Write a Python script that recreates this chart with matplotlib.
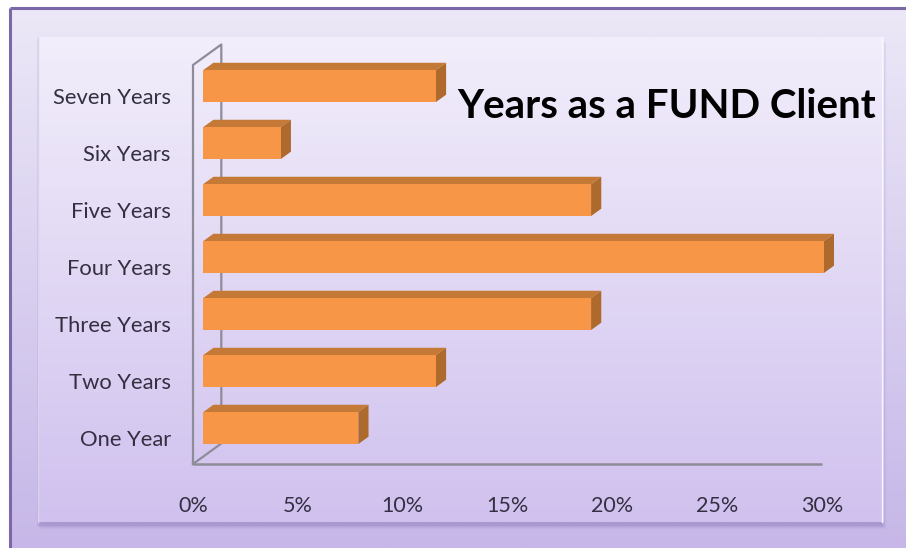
import numpy as np
import matplotlib
matplotlib.use("Agg")
import matplotlib.pyplot as plt
import matplotlib.transforms as mtransforms
from matplotlib.patches import Polygon, Rectangle

plt.rcParams['font.family'] = ['Lato', 'DejaVu Sans']

# ---------------- data ----------------
categories = ["One Year", "Two Years", "Three Years", "Four Years",
              "Five Years", "Six Years", "Seven Years"]
values = [7.4, 11.1, 18.5, 29.6, 18.5, 3.7, 11.1]   # percent
xticks = [0, 5, 10, 15, 20, 25, 30]
xtick_labels = [f"{t}%" for t in xticks]
title = "Years as a FUND Client"

W, H = 906, 548
fig = plt.figure(figsize=(W / 100, H / 100), dpi=100)

# ---------------- background (pixel coords) ----------------
bg = fig.add_axes([0, 0, 1, 1])
bg.set_xlim(0, W)
bg.set_ylim(H, 0)
bg.axis('off')

def vgrad(top, bottom, n=256):
    t = np.linspace(0, 1, n)[:, None]
    top = np.array(top) / 255.0
    bottom = np.array(bottom) / 255.0
    g = top[None, :] * (1 - t) + bottom[None, :] * t
    return g[:, None, :]

bg.imshow(np.ones((2, 2, 3)), extent=[0, W, H, 0], aspect='auto', zorder=0)
bg.imshow(vgrad((236, 232, 247), (198, 183, 232)), extent=[10, W, H, 8],
          aspect='auto', zorder=1, interpolation='bilinear')
# outer border (left and top)
bg.plot([10, 10], [8, H], color='#7a68a8', lw=2.2, zorder=2, solid_capstyle='butt')
bg.plot([10, W], [8, 8], color='#7a68a8', lw=2.2, zorder=2, solid_capstyle='butt')

# panel shadow
for i, a in enumerate([0.12, 0.08, 0.06, 0.04, 0.02]):
    bg.add_patch(Rectangle((38 - 1 + i, 37 + 2 + i), 846, 485 + 2,
                           facecolor=(0.42, 0.32, 0.62, a), edgecolor='none', zorder=2))
# panel
bg.imshow(vgrad((242, 238, 251), (208, 193, 238)), extent=[38, 884, 522, 37],
          aspect='auto', zorder=3, interpolation='bilinear')
bg.plot([38, 38], [37, 522], color=(0.86, 0.83, 0.93), lw=1.0, zorder=4)
bg.plot([882, 882], [37, 522], color=(0.97, 0.96, 1.0), lw=1.0, zorder=4)

# ---------------- chart axes (front plane) ----------------
x0p, x1p, ytp, ybp = 193, 822, 65, 464
ax = fig.add_axes([x0p / W, 1 - ybp / H, (x1p - x0p) / W, (ybp - ytp) / H])
ax.set_facecolor('none')
ax.set_xlim(0, 30)
ax.set_ylim(-0.5, len(categories) - 0.5)
for s in ax.spines.values():
    s.set_visible(False)

# 3D depth vector (in data units) of full wall depth
DX, DY = 1.35, 0.36
t1, t2 = 0.36, 0.72
half = 0.28

wall_col = '#8f8c99'
ymin, ymax = -0.5, len(categories) - 0.5
ax.plot([0, 0, DX, DX, 0], [ymin, ymax, ymax + DY, ymin + DY, ymin],
        color=wall_col, lw=1.6, clip_on=False, zorder=1)
ax.plot([0, 30], [ymin, ymin], color=wall_col, lw=1.8, clip_on=False, zorder=1,
        solid_capstyle='butt')

front_c = '#F79646'
top_c = '#C47A36'
side_c = '#AE6A2C'
ddx, ddy = (t2 - t1) * DX, (t2 - t1) * DY
for i, v in enumerate(values):
    xa = t1 * DX
    xb = v + t1 * DX
    ya = i - half + t1 * DY
    yb = i + half + t1 * DY
    ax.add_patch(Polygon([(xa, yb), (xb, yb), (xb + ddx, yb + ddy), (xa + ddx, yb + ddy)],
                         closed=True, facecolor=top_c, edgecolor='none', zorder=3, clip_on=False))
    ax.add_patch(Polygon([(xb, ya), (xb + ddx, ya + ddy), (xb + ddx, yb + ddy), (xb, yb)],
                         closed=True, facecolor=side_c, edgecolor='none', zorder=3, clip_on=False))
    ax.add_patch(Rectangle((xa, ya), xb - xa, yb - ya, facecolor=front_c,
                           edgecolor='none', zorder=4, clip_on=False))

txt_col = '#352f42'
ax.set_yticks(range(len(categories)))
ax.set_yticklabels(categories, fontsize=15.8, color=txt_col)
ax.set_xticks(xticks)
ax.set_xticklabels(xtick_labels, fontsize=15.5, color=txt_col)
ax.tick_params(axis='y', length=0, pad=16)
ax.tick_params(axis='x', length=0, pad=23)
shift = mtransforms.ScaledTranslation(0, -1.5 / 72, fig.dpi_scale_trans)
for lab in ax.get_yticklabels():
    lab.set_transform(lab.get_transform() + shift)

fig.text(667 / W, 1 - 106 / H, title, fontsize=29, fontweight='bold',
         color='black', ha='center', va='center')

fig.savefig('out.png', dpi=100)
